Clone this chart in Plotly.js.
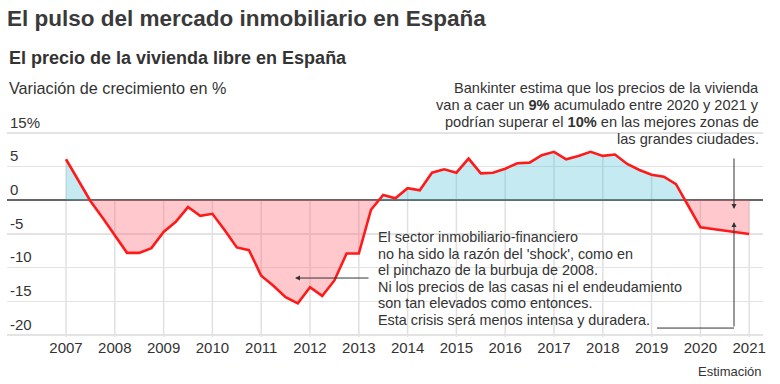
<!DOCTYPE html>
<html><head><meta charset="utf-8">
<script src="https://cdn.plot.ly/plotly-3.0.1.min.js"></script>
<style>html,body{margin:0;padding:0;background:#fff}#chart{width:780px;height:384px}</style>
</head><body><div id="chart"></div>
<script>
// Quarterly year-on-year change of free-market housing prices (%)
const quarters = [
  '2007T1','2007T2','2007T3','2007T4',
  '2008T1','2008T2','2008T3','2008T4',
  '2009T1','2009T2','2009T3','2009T4',
  '2010T1','2010T2','2010T3','2010T4',
  '2011T1','2011T2','2011T3','2011T4',
  '2012T1','2012T2','2012T3','2012T4',
  '2013T1','2013T2','2013T3','2013T4',
  '2014T1','2014T2','2014T3','2014T4',
  '2015T1','2015T2','2015T3','2015T4',
  '2016T1','2016T2','2016T3','2016T4',
  '2017T1','2017T2','2017T3','2017T4',
  '2018T1','2018T2','2018T3','2018T4',
  '2019T1','2019T2','2019T3','2019T4'
];
const values = [
  6.1, 3.0, -0.1, -2.6,
  -5.2, -7.8, -7.8, -7.1,
  -4.7, -3.2, -1.0, -2.3,
  -2.0, -4.4, -7.0, -7.4,
  -11.2, -12.7, -14.4, -15.3,
  -12.9, -14.2, -11.9, -7.9,
  -7.9, -1.4, 0.8, 0.3,
  1.8, 1.5, 4.1, 4.6,
  4.1, 6.2, 4.0, 4.1,
  4.7, 5.5, 5.6, 6.7,
  7.2, 6.1, 6.6, 7.2,
  6.6, 6.8, 5.4, 4.5,
  3.8, 3.5, 2.4, -0.8
];
// Bankinter estimates
const estimateYears = [2020, 2021];
const estimateValues = [-4.0, -5.0];

const yearTicks = [2007,2008,2009,2010,2011,2012,2013,2014,2015,2016,2017,2018,2019,2020,2021];
const yearLabels = yearTicks.map(String);
const yTickVals = [-20,-15,-10,-5,0,5,10];
const yTickText = ['-20','-15','-10','-5','0','5','15%'];

const FONT = 'Liberation Sans, Arial, Helvetica, sans-serif';
const TXT = '#333333';

const xs = quarters.map(q => { const p = q.split('T'); return +p[0] + (+p[1]-1)/4; }).concat(estimateYears);
const ys = values.concat(estimateValues);

// split fill at zero crossings
const fx = [], fpos = [], fneg = [];
for (let i = 0; i < xs.length; i++) {
  fx.push(xs[i]); fpos.push(Math.max(ys[i],0)); fneg.push(Math.min(ys[i],0));
  if (i < xs.length-1 && ys[i]*ys[i+1] < 0) {
    const t = ys[i]/(ys[i]-ys[i+1]);
    fx.push(xs[i] + t*(xs[i+1]-xs[i])); fpos.push(0); fneg.push(0);
  }
}

// plot area: top at 113px, bottom at 337px; 6.733 px per unit
const yRange = [-20.3, 12.97];
const xRange = [2005.791, 2021.283];
const PT = 113, PB = 337, PH = PB - PT;

const traces = [
  {x: fx, y: fpos, type:'scatter', mode:'lines', line:{width:0}, fill:'tozeroy', fillcolor:'rgba(62,185,212,0.30)', hoverinfo:'skip'},
  {x: fx, y: fneg, type:'scatter', mode:'lines', line:{width:0}, fill:'tozeroy', fillcolor:'rgba(255,98,112,0.35)', hoverinfo:'skip'},
  {x: xs, y: ys, type:'scatter', mode:'lines', line:{color:'#ff1a1a', width:2.6}}
];

const shapes = yearTicks.map(yr => {
  const idx = xs.findIndex(v => Math.abs(v-yr) < 1e-9);
  const top = idx >= 0 ? Math.max(ys[idx],0) : 0;
  return {type:'line', xref:'x', yref:'y', x0:yr, x1:yr, y0:top, y1:yRange[0], line:{color:'#e0e0e0', width:1.5}, layer:'below'};
});
// connector under the left text towards the 2020-2021 arrow
shapes.push({type:'line', xref:'x', yref:'y', x0:2019.111, x1:2020.689, y0:-18.97, y1:-18.97, line:{color:'#333', width:1}});

const ann = [];
function line(text, px, py, anchor, size, extra) {
  ann.push(Object.assign({text: text, xref:'paper', yref:'paper',
    x:(px-7)/756, y:(PB-py)/PH, xanchor:anchor, yanchor:'middle', showarrow:false,
    font:{family:FONT, size:size, color:TXT}}, extra||{}));
}
line('<b>El precio de la vivienda libre en España</b>', 7, 58, 'left', 18);
line('Variación de crecimiento en %', 7, 88, 'left', 16.2);
const rightLines = ['Bankinter estima que los precios de la vivienda',
  'van a caer un <b>9%</b> acumulado entre 2020 y 2021 y',
  'podrían superar el <b>10%</b> en las mejores zonas de',
  'las grandes ciudades.'];
rightLines.forEach((t,i) => line(t, 761, 88 + i*17, 'right', 14.6));
const leftLines = ['El sector inmobiliario-financiero',
  "no ha sido la razón del 'shock', como en",
  'el pinchazo de la burbuja de 2008.',
  'Ni los precios de las casas ni el endeudamiento',
  'son tan elevados como entonces.',
  'Esta crisis será menos intensa y duradera.'];
leftLines.forEach((t,i) => line(t, 376, 237 + i*16.6, 'left', 14.4));
line('Estimación', 764, 371, 'right', 13);

// arrows
ann.push({x:2011.693, y:-11.54, xref:'x', yref:'y', text:'', showarrow:true, ax:75, ay:0,
  arrowhead:2, arrowsize:1, arrowwidth:1, arrowcolor:'#333', standoff:0});
ann.push({x:2020.689, y:-1.29, xref:'x', yref:'y', text:'', showarrow:true, ax:0, ay:-52,
  arrowhead:2, arrowsize:1, arrowwidth:1, arrowcolor:'#333', standoff:0});
ann.push({x:2020.689, y:-3.22, xref:'x', yref:'y', text:'', showarrow:true, ax:0, ay:106,
  arrowhead:2, arrowsize:1, arrowwidth:1, arrowcolor:'#333', standoff:0});

const layout = {
  width:780, height:384,
  margin:{l:7, r:17, t:PT, b:384-PB},
  paper_bgcolor:'#fff', plot_bgcolor:'#fff',
  showlegend:false,
  font:{family:FONT, color:TXT},
  title:{text:'<b>El pulso del mercado inmobiliario en España</b>', x:7/780, xanchor:'left', xref:'container',
    y:1-18/384, yanchor:'middle', yref:'container', font:{family:FONT, size:22.5, color:'#3a3a3a'}},
  xaxis:{range:xRange, tickvals:yearTicks, ticktext:yearLabels, showgrid:false, zeroline:false,
    showline:false, ticks:'', tickfont:{family:FONT, size:15, color:TXT}, fixedrange:true},
  yaxis:{range:yRange, tickvals:yTickVals, ticktext:yTickText, ticklabelposition:'inside top',
    showgrid:true, gridcolor:'#e3e3e3', gridwidth:1.5, zeroline:true, zerolinecolor:'#666', zerolinewidth:2,
    showline:false, ticks:'', tickfont:{family:FONT, size:15, color:TXT}, fixedrange:true},
  shapes:shapes,
  annotations:ann
};
Plotly.newPlot('chart', traces, layout, {displayModeBar:false, staticPlot:true});
</script>
</body></html>
